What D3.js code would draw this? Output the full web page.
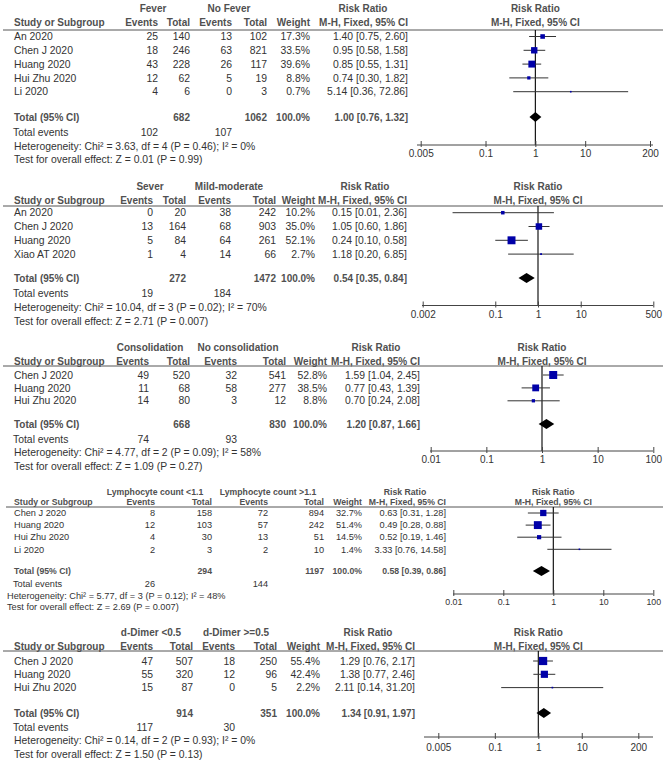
<!DOCTYPE html>
<html><head><meta charset="utf-8">
<script src="https://cdn.jsdelivr.net/npm/d3@7/dist/d3.min.js"></script>
<style>
body{margin:0;background:#fff}
svg{display:block}
text{font-family:"Liberation Sans",Arial,Helvetica,sans-serif}
</style>
</head><body>
<svg id="chart" width="669" height="761"></svg>
<script>
// ---------- DATA ----------
// Panel 1: Fever
const fever_groups = ["Fever", "No Fever"];
const fever_studies = ["An 2020", "Chen J 2020", "Huang 2020", "Hui Zhu 2020", "Li 2020"];
const fever_e1 = [25, 18, 43, 12, 4];
const fever_t1 = [140, 246, 228, 62, 6];
const fever_e2 = [13, 63, 26, 5, 0];
const fever_t2 = [102, 821, 117, 19, 3];
const fever_w = [17.3, 33.5, 39.6, 8.8, 0.7];
const fever_rr = [1.40, 0.95, 0.85, 0.74, 5.14];
const fever_lo = [0.75, 0.58, 0.55, 0.30, 0.36];
const fever_hi = [2.60, 1.58, 1.31, 1.82, 72.86];
const fever_totals = [682, 1062];
const fever_pooled = [1.00, 0.76, 1.32];
const fever_events = [102, 107];
const fever_het = "Heterogeneity: Chi² = 3.63, df = 4 (P = 0.46); I² = 0%";
const fever_test = "Test for overall effect: Z = 0.01 (P = 0.99)";
const fever_ticks = [0.005, 0.1, 1, 10, 200];
const fever_tickLabels = ["0.005", "0.1", "1", "10", "200"];

// Panel 2: Severity
const sever_groups = ["Sever", "Mild-moderate"];
const sever_studies = ["An 2020", "Chen J 2020", "Huang 2020", "Xiao AT 2020"];
const sever_e1 = [0, 13, 5, 1];
const sever_t1 = [20, 164, 84, 4];
const sever_e2 = [38, 68, 64, 14];
const sever_t2 = [242, 903, 261, 66];
const sever_w = [10.2, 35.0, 52.1, 2.7];
const sever_rr = [0.15, 1.05, 0.24, 1.18];
const sever_lo = [0.01, 0.60, 0.10, 0.20];
const sever_hi = [2.36, 1.86, 0.58, 6.85];
const sever_totals = [272, 1472];
const sever_pooled = [0.54, 0.35, 0.84];
const sever_events = [19, 184];
const sever_het = "Heterogeneity: Chi² = 10.04, df = 3 (P = 0.02); I² = 70%";
const sever_test = "Test for overall effect: Z = 2.71 (P = 0.007)";
const sever_ticks = [0.002, 0.1, 1, 10, 500];
const sever_tickLabels = ["0.002", "0.1", "1", "10", "500"];

// Panel 3: Consolidation
const cons_groups = ["Consolidation", "No consolidation"];
const cons_studies = ["Chen J 2020", "Huang 2020", "Hui Zhu 2020"];
const cons_e1 = [49, 11, 14];
const cons_t1 = [520, 68, 80];
const cons_e2 = [32, 58, 3];
const cons_t2 = [541, 277, 12];
const cons_w = [52.8, 38.5, 8.8];
const cons_rr = [1.59, 0.77, 0.70];
const cons_lo = [1.04, 0.43, 0.24];
const cons_hi = [2.45, 1.39, 2.08];
const cons_totals = [668, 830];
const cons_pooled = [1.20, 0.87, 1.66];
const cons_events = [74, 93];
const cons_het = "Heterogeneity: Chi² = 4.77, df = 2 (P = 0.09); I² = 58%";
const cons_test = "Test for overall effect: Z = 1.09 (P = 0.27)";
const cons_ticks = [0.01, 0.1, 1, 10, 100];
const cons_tickLabels = ["0.01", "0.1", "1", "10", "100"];

// Panel 4: Lymphocyte count
const lymph_groups = ["Lymphocyte count <1.1", "Lymphocyte count >1.1"];
const lymph_studies = ["Chen J 2020", "Huang 2020", "Hui Zhu 2020", "Li 2020"];
const lymph_e1 = [8, 12, 4, 2];
const lymph_t1 = [158, 103, 30, 3];
const lymph_e2 = [72, 57, 13, 2];
const lymph_t2 = [894, 242, 51, 10];
const lymph_w = [32.7, 51.4, 14.5, 1.4];
const lymph_rr = [0.63, 0.49, 0.52, 3.33];
const lymph_lo = [0.31, 0.28, 0.19, 0.76];
const lymph_hi = [1.28, 0.88, 1.46, 14.58];
const lymph_totals = [294, 1197];
const lymph_pooled = [0.58, 0.39, 0.86];
const lymph_events = [26, 144];
const lymph_het = "Heterogeneity: Chi² = 5.77, df = 3 (P = 0.12); I² = 48%";
const lymph_test = "Test for overall effect: Z = 2.69 (P = 0.007)";
const lymph_ticks = [0.01, 0.1, 1, 10, 100];
const lymph_tickLabels = ["0.01", "0.1", "1", "10", "100"];

// Panel 5: d-Dimer
const ddim_groups = ["d-Dimer <0.5", "d-Dimer >=0.5"];
const ddim_studies = ["Chen J 2020", "Huang 2020", "Hui Zhu 2020"];
const ddim_e1 = [47, 55, 15];
const ddim_t1 = [507, 320, 87];
const ddim_e2 = [18, 12, 0];
const ddim_t2 = [250, 96, 5];
const ddim_w = [55.4, 42.4, 2.2];
const ddim_rr = [1.29, 1.38, 2.11];
const ddim_lo = [0.76, 0.77, 0.14];
const ddim_hi = [2.17, 2.46, 31.20];
const ddim_totals = [914, 351];
const ddim_pooled = [1.34, 0.91, 1.97];
const ddim_events = [117, 30];
const ddim_het = "Heterogeneity: Chi² = 0.14, df = 2 (P = 0.93); I² = 0%";
const ddim_test = "Test for overall effect: Z = 1.50 (P = 0.13)";
const ddim_ticks = [0.005, 0.1, 1, 10, 200];
const ddim_tickLabels = ["0.005", "0.1", "1", "10", "200"];

// ---------- PANELS (data refs) ----------
const panels = [
  {groups: fever_groups, studies: fever_studies, e1: fever_e1, t1: fever_t1, e2: fever_e2, t2: fever_t2, w: fever_w, rr: fever_rr, lo: fever_lo, hi: fever_hi, totals: fever_totals, pooled: fever_pooled, events: fever_events, het: fever_het, test: fever_test, ticks: fever_ticks, tickLabels: fever_tickLabels},
  {groups: sever_groups, studies: sever_studies, e1: sever_e1, t1: sever_t1, e2: sever_e2, t2: sever_t2, w: sever_w, rr: sever_rr, lo: sever_lo, hi: sever_hi, totals: sever_totals, pooled: sever_pooled, events: sever_events, het: sever_het, test: sever_test, ticks: sever_ticks, tickLabels: sever_tickLabels},
  {groups: cons_groups, studies: cons_studies, e1: cons_e1, t1: cons_t1, e2: cons_e2, t2: cons_t2, w: cons_w, rr: cons_rr, lo: cons_lo, hi: cons_hi, totals: cons_totals, pooled: cons_pooled, events: cons_events, het: cons_het, test: cons_test, ticks: cons_ticks, tickLabels: cons_tickLabels},
  {groups: lymph_groups, studies: lymph_studies, e1: lymph_e1, t1: lymph_t1, e2: lymph_e2, t2: lymph_t2, w: lymph_w, rr: lymph_rr, lo: lymph_lo, hi: lymph_hi, totals: lymph_totals, pooled: lymph_pooled, events: lymph_events, het: lymph_het, test: lymph_test, ticks: lymph_ticks, tickLabels: lymph_tickLabels},
  {groups: ddim_groups, studies: ddim_studies, e1: ddim_e1, t1: ddim_t1, e2: ddim_e2, t2: ddim_t2, w: ddim_w, rr: ddim_rr, lo: ddim_lo, hi: ddim_hi, totals: ddim_totals, pooled: ddim_pooled, events: ddim_events, het: ddim_het, test: ddim_test, ticks: ddim_ticks, tickLabels: ddim_tickLabels}
];

// ---------- LAYOUT ----------
const layouts = [
  {fs: 10.4, hfs: 10, sx: 14, hx: 14, lx0: 3, e1: 158, t1: 190, e2: 232, t2: 267, w: 310, ci: 408, g1x: 153, g2x: 229, rrx: 363,
   yH1: 8.5, yH2: 22.5, yLine: 30, yRow0: 36.5, step: 13.8, yTotal: 117, yEv: 132, yHet: 146, yTest: 159.5,
   x0: 420.7, x1: 650, ax0: 417, ax1: 653, axisY: 145, labY: 153},
  {fs: 10.4, hfs: 10, sx: 14, hx: 14, lx0: 3, e1: 153, t1: 186, e2: 231, t2: 276, w: 315, ci: 407, g1x: 150, g2x: 229, rrx: 365,
   yH1: 186, yH2: 200, yLine: 206, yRow0: 212.7, step: 13.8, yTotal: 278, yEv: 293.5, yHet: 307, yTest: 321,
   x0: 422.7, x1: 653.3, ax0: 422, ax1: 653, axisY: 305.5, labY: 314},
  {fs: 10.4, hfs: 10, sx: 14, hx: 14, lx0: 3, e1: 149, t1: 190, e2: 237, t2: 286, w: 327, ci: 420, g1x: 150, g2x: 238, rrx: 376,
   yH1: 347, yH2: 361, yLine: 366, yRow0: 375, step: 12.9, yTotal: 424, yEv: 439, yHet: 452, yTest: 466,
   x0: 430.7, x1: 653.3, ax0: 430, ax1: 653, axisY: 451, labY: 459.5},
  {fs: 9.2, hfs: 8.7, sx: 14, hx: 7, lx0: 6, e1: 155, t1: 212, e2: 268, t2: 324, w: 362, ci: 446, g1x: 155, g2x: 268, rrx: 405,
   yH1: 492, yH2: 502, yLine: 507, yRow0: 513, step: 12.1, yTotal: 571, yEv: 584, yHet: 595.5, yTest: 607,
   x0: 453.3, x1: 653.3, ax0: 453, ax1: 653, axisY: 594, labY: 602},
  {fs: 10.4, hfs: 10, sx: 14, hx: 14, lx0: 3, e1: 153, t1: 193, e2: 235, t2: 277, w: 320, ci: 415, g1x: 151, g2x: 236, rrx: 368,
   yH1: 632.5, yH2: 646, yLine: 651, yRow0: 661, step: 13.3, yTotal: 713, yEv: 727, yHet: 740, yTest: 754,
   x0: 438.3, x1: 638.3, ax0: 424, ax1: 653, axisY: 737, labY: 747}
];

const svg = d3.select("#chart");
const f2 = d3.format(".2f"), f1 = d3.format(".1f");
const HEAD = "#505050", BODY = "#333333", BLUE = "#0000a8";
const boxSize = d3.scaleSqrt().domain([0, 100]).range([0, 11]);

function drawPanel(P, L) {
  const g = svg.append("g");
  const txt = (x, y, s, anchor, bold) => g.append("text")
    .attr("x", x).attr("y", y).attr("dy", "0.35em")
    .attr("text-anchor", anchor)
    .attr("font-size", bold ? L.hfs : L.fs)
    .attr("font-weight", bold ? "bold" : "normal")
    .attr("fill", bold ? HEAD : BODY)
    .text(s);

  // header
  txt(L.g1x, L.yH1, P.groups[0], "middle", true);
  txt(L.g2x, L.yH1, P.groups[1], "middle", true);
  txt(L.rrx, L.yH1, "Risk Ratio", "middle", true);
  txt(L.sx, L.yH2, "Study or Subgroup", "start", true);
  const cols = [L.e1, L.t1, L.e2, L.t2, L.w, L.ci];
  ["Events", "Total", "Events", "Total", "Weight", "M-H, Fixed, 95% CI"]
    .forEach((h, i) => txt(cols[i], L.yH2, h, "end", true));

  const x = d3.scaleLog()
    .domain([P.ticks[0], P.ticks[P.ticks.length - 1]])
    .range([L.x0, L.x1]);
  txt(x(1), L.yH1, "Risk Ratio", "middle", true);
  txt(x(1), L.yH2, "M-H, Fixed, 95% CI", "middle", true);

  g.append("line").attr("x1", L.lx0).attr("x2", 663)
    .attr("y1", L.yLine).attr("y2", L.yLine)
    .attr("stroke", "#555").attr("stroke-width", 1);

  const y = d3.scaleLinear().domain([0, 1]).range([L.yRow0, L.yRow0 + L.step]);

  // study rows
  P.studies.forEach((s, i) => {
    const yy = y(i);
    txt(L.sx, yy, s, "start", false);
    txt(L.e1, yy, P.e1[i], "end", false);
    txt(L.t1, yy, P.t1[i], "end", false);
    txt(L.e2, yy, P.e2[i], "end", false);
    txt(L.t2, yy, P.t2[i], "end", false);
    txt(L.w, yy, f1(P.w[i]) + "%", "end", false);
    txt(L.ci, yy, `${f2(P.rr[i])} [${f2(P.lo[i])}, ${f2(P.hi[i])}]`, "end", false);
  });

  // total row
  txt(L.sx, L.yTotal, "Total (95% CI)", "start", true);
  txt(L.t1, L.yTotal, P.totals[0], "end", true);
  txt(L.t2, L.yTotal, P.totals[1], "end", true);
  txt(L.w, L.yTotal, "100.0%", "end", true);
  txt(L.ci, L.yTotal, `${f2(P.pooled[0])} [${f2(P.pooled[1])}, ${f2(P.pooled[2])}]`, "end", true);
  txt(L.sx - 1, L.yEv, "Total events", "start", false);
  txt(L.e1, L.yEv, P.events[0], "end", false);
  txt(L.e2, L.yEv, P.events[1], "end", false);
  txt(L.hx, L.yHet, P.het, "start", false);
  txt(L.hx, L.yTest, P.test, "start", false);

  // reference line at RR = 1
  g.append("line").attr("x1", x(1)).attr("x2", x(1))
    .attr("y1", L.yLine).attr("y2", L.axisY)
    .attr("stroke", "#000").attr("stroke-width", 1.1);

  // CI lines and boxes
  P.studies.forEach((s, i) => {
    const yy = y(i);
    g.append("line").attr("x1", x(P.lo[i])).attr("x2", x(P.hi[i]))
      .attr("y1", yy).attr("y2", yy)
      .attr("stroke", "#333").attr("stroke-width", 1);
    const sz = Math.max(1.6, boxSize(P.w[i]));
    g.append("rect").attr("x", x(P.rr[i]) - sz / 2).attr("y", yy - sz / 2)
      .attr("width", sz).attr("height", sz).attr("fill", BLUE);
  });

  // diamond
  const dh = 5;
  g.append("path")
    .attr("d", `M${x(P.pooled[1])},${L.yTotal} L${x(P.pooled[0])},${L.yTotal - dh} L${x(P.pooled[2])},${L.yTotal} L${x(P.pooled[0])},${L.yTotal + dh} Z`)
    .attr("fill", "#000");

  // axis
  const axis = d3.axisBottom(x).tickValues(P.ticks)
    .tickFormat((d, i) => P.tickLabels[i]).tickSizeOuter(0);
  const ag = g.append("g").attr("transform", `translate(0,${L.axisY})`).call(axis);
  ag.select(".domain").remove();
  ag.selectAll(".tick line").attr("y1", -4).attr("y2", 2).attr("stroke", "#444");
  ag.selectAll(".tick text").attr("y", L.labY - L.axisY).attr("dy", "0.35em")
    .attr("font-size", L.fs - 0.4).attr("fill", BODY)
    .attr("font-family", '"Liberation Sans",Arial,sans-serif');
  g.append("line").attr("x1", L.ax0).attr("x2", L.ax1)
    .attr("y1", L.axisY).attr("y2", L.axisY)
    .attr("stroke", "#444").attr("stroke-width", 1);
}

panels.forEach((P, i) => drawPanel(P, layouts[i]));
</script>
</body></html>
